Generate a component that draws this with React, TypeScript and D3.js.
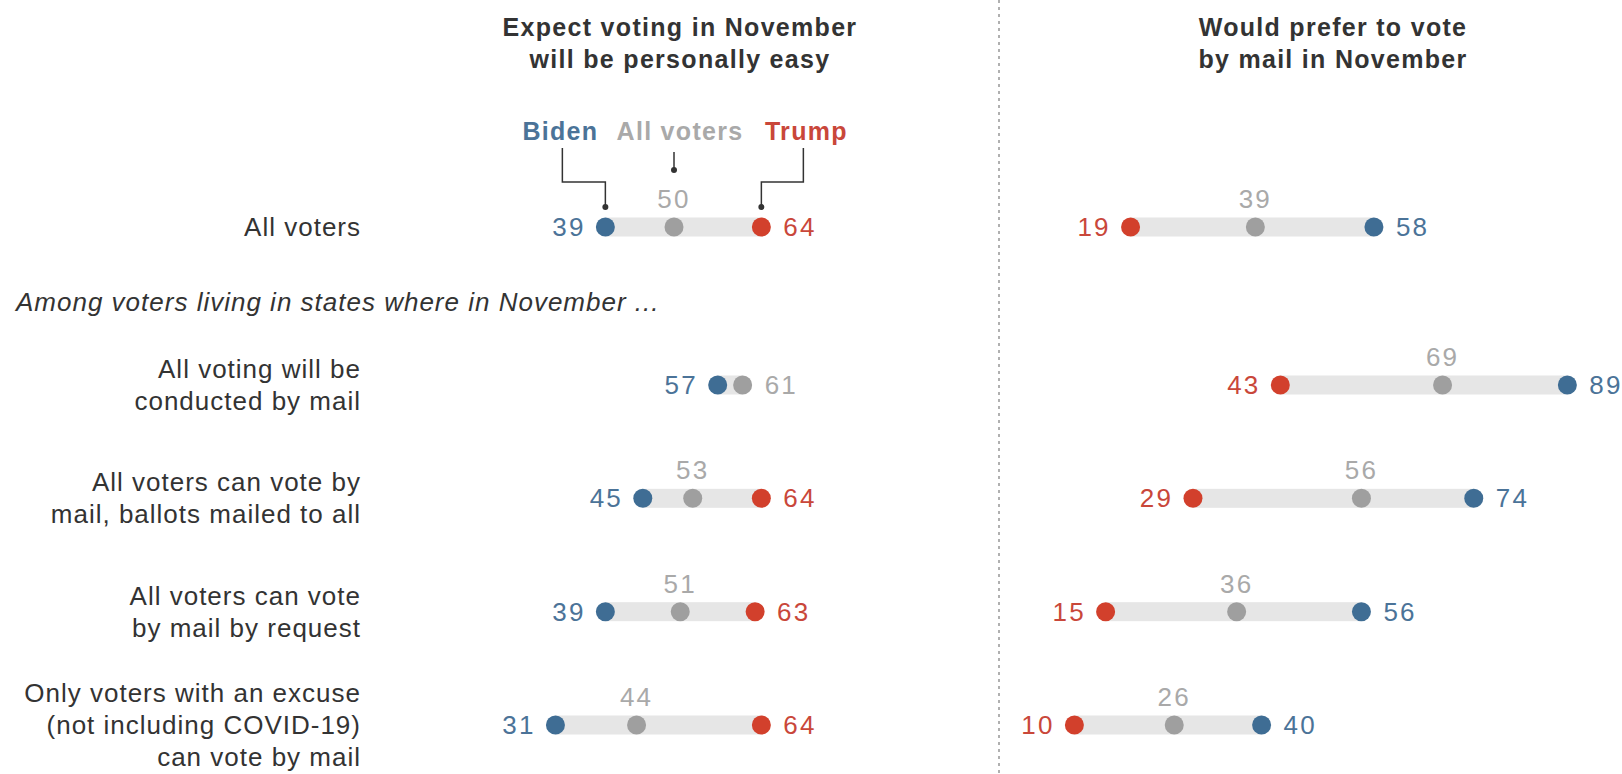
import React from "react";
import * as d3 from "d3";

const categories = [
  ["All voters"],
  ["All voting will be", "conducted by mail"],
  ["All voters can vote by", "mail, ballots mailed to all"],
  ["All voters can vote", "by mail by request"],
  ["Only voters with an excuse", "(not including COVID-19)", "can vote by mail"],
];
const easyBiden: (number | null)[] = [39, 57, 45, 39, 31];
const easyAll: (number | null)[] = [50, 61, 53, 51, 44];
const easyTrump: (number | null)[] = [64, null, 64, 63, 64];
const mailBiden: (number | null)[] = [58, 89, 74, 56, 40];
const mailAll: (number | null)[] = [39, 69, 56, 36, 26];
const mailTrump: (number | null)[] = [19, 43, 29, 15, 10];

const titleLeft = ["Expect voting in November", "will be personally easy"];
const titleRight = ["Would prefer to vote", "by mail in November"];
const subHeader = "Among voters living in states where in November ...";
const legendNames = ["Biden", "All voters", "Trump"];

const FONT = "'Liberation Sans', Arial, sans-serif";
const C = {
  biden: "#3f6d94",
  bidenText: "#4b7398",
  trump: "#d2402c",
  trumpText: "#c9473a",
  all: "#9f9f9f",
  allText: "#a9a9a9",
  bar: "#e6e6e6",
  text: "#333333",
};

type Pt = { v: number; dot: string; txt: string };

export default function App() {
  const W = 1622;
  const H = 774;
  const xLeft = d3.scaleLinear().domain([0, 100]).range([362, 986]);
  const xRight = d3.scaleLinear().domain([0, 100]).range([1012, 1636]);
  const subRows = categories.slice(1).map((_, i) => String(i + 1));
  const yPoint = d3.scalePoint<string>().domain(subRows).range([385, 725]);
  const rowY = categories.map((_, i) => (i === 0 ? 227 : (yPoint(String(i)) as number)));

  const fs = 25;
  const ls = 1.3;
  const labFs = 26;
  const labLs = 1.0;
  const numFs = 26;
  const numLs = 2.2;
  const r = 9.5;
  const barH = 19;
  const lineH = 32;
  const gap = 22;

  const renderRow = (
    x: d3.ScaleLinear<number, number>,
    pts: Pt[],
    mid: Pt | null,
    y: number,
    key: string
  ) => {
    const sorted = [...pts].sort((a, b) => a.v - b.v);
    const lo = sorted[0];
    const hi = sorted[sorted.length - 1];
    return (
      <g key={key}>
        <rect
          x={x(lo.v)}
          y={y - barH / 2}
          width={x(hi.v) - x(lo.v)}
          height={barH}
          fill={C.bar}
        />
        {mid && (
          <text
            x={x(mid.v)}
            y={y - 19}
            textAnchor="middle"
            fontSize={numFs}
            fill={mid.txt}
            fontFamily={FONT}
            letterSpacing={numLs}
          >
            {mid.v}
          </text>
        )}
        {[...pts, ...(mid ? [mid] : [])].map((p, i) => (
          <circle key={i} cx={x(p.v)} cy={y} r={r} fill={p.dot} />
        ))}
        <text
          x={x(lo.v) - gap + numLs}
          y={y + 9}
          textAnchor="end"
          fontSize={numFs}
          fill={lo.txt}
          fontFamily={FONT}
          letterSpacing={numLs}
        >
          {lo.v}
        </text>
        <text
          x={x(hi.v) + gap}
          y={y + 9}
          textAnchor="start"
          fontSize={numFs}
          fill={hi.txt}
          fontFamily={FONT}
          letterSpacing={numLs}
        >
          {hi.v}
        </text>
      </g>
    );
  };

  const build = (vals: (number | null)[], dot: string, txt: string, i: number): Pt | null =>
    vals[i] == null ? null : { v: vals[i] as number, dot, txt };

  const rowsLeft = categories.map((_, i) => {
    const b = build(easyBiden, C.biden, C.bidenText, i);
    const a = build(easyAll, C.all, C.allText, i);
    const t = build(easyTrump, C.trump, C.trumpText, i);
    const ends = [b, t].filter(Boolean) as Pt[];
    if (ends.length === 2) return renderRow(xLeft, ends, a, rowY[i], "l" + i);
    return renderRow(xLeft, [...ends, a as Pt], null, rowY[i], "l" + i);
  });
  const rowsRight = categories.map((_, i) => {
    const b = build(mailBiden, C.biden, C.bidenText, i);
    const a = build(mailAll, C.all, C.allText, i);
    const t = build(mailTrump, C.trump, C.trumpText, i);
    const ends = [t, b].filter(Boolean) as Pt[];
    if (ends.length === 2) return renderRow(xRight, ends, a, rowY[i], "r" + i);
    return renderRow(xRight, [...ends, a as Pt], null, rowY[i], "r" + i);
  });

  const bx = xLeft(easyBiden[0] as number);
  const ax = xLeft(easyAll[0] as number);
  const tx = xLeft(easyTrump[0] as number);
  const legendY = 140;
  const legendCx = [bx - 45, ax + 6, tx + 45];
  const legendCol = [C.bidenText, C.allText, C.trumpText];
  const dotY = rowY[0] - 20;

  return (
    <svg
      width={W}
      height={H}
      style={{ position: "absolute", left: 0, top: 0, background: "#fff" }}
    >
      <line x1={999} x2={999} y1={0} y2={H} stroke="#b0b0b0" strokeWidth={2} strokeDasharray="3 4" />
      {[titleLeft, titleRight].map((t, k) => (
        <text
          key={k}
          textAnchor="middle"
          fontSize={fs}
          fontWeight="bold"
          fill="#333"
          fontFamily={FONT}
          letterSpacing={ls}
        >
          {t.map((line, j) => (
            <tspan key={j} x={k === 0 ? 680 : 1333} y={36 + j * 32}>
              {line}
            </tspan>
          ))}
        </text>
      ))}
      {legendNames.map((n, i) => (
        <text
          key={n}
          x={legendCx[i]}
          y={legendY}
          textAnchor="middle"
          fontSize={fs}
          fontWeight="bold"
          fill={legendCol[i]}
          fontFamily={FONT}
          letterSpacing={ls}
        >
          {n}
        </text>
      ))}
      <g stroke="#333" strokeWidth={1.5} fill="none">
        <path d={`M${legendCx[0] + 2},148V182H${bx}V${dotY}`} />
        <path d={`M${ax},152V${170}`} />
        <path d={`M${legendCx[2] - 3},148V182H${tx}V${dotY}`} />
      </g>
      <circle cx={bx} cy={dotY} r={3} fill="#333" />
      <circle cx={ax} cy={170} r={3} fill="#333" />
      <circle cx={tx} cy={dotY} r={3} fill="#333" />

      {categories.map((lines, i) => (
        <text
          key={"lab" + i}
          textAnchor="end"
          fontSize={labFs}
          fill={C.text}
          fontFamily={FONT}
          letterSpacing={labLs}
        >
          {lines.map((ln, j) => (
            <tspan key={j} x={361} y={rowY[i] + 9 + (j - (lines.length - 1) / 2) * lineH}>
              {ln}
            </tspan>
          ))}
        </text>
      ))}
      <text
        x={16}
        y={311}
        fontSize={labFs}
        fontStyle="italic"
        fill={C.text}
        fontFamily={FONT}
        letterSpacing={1.0}
      >
        {subHeader}
      </text>
      {rowsLeft}
      {rowsRight}
    </svg>
  );
}
